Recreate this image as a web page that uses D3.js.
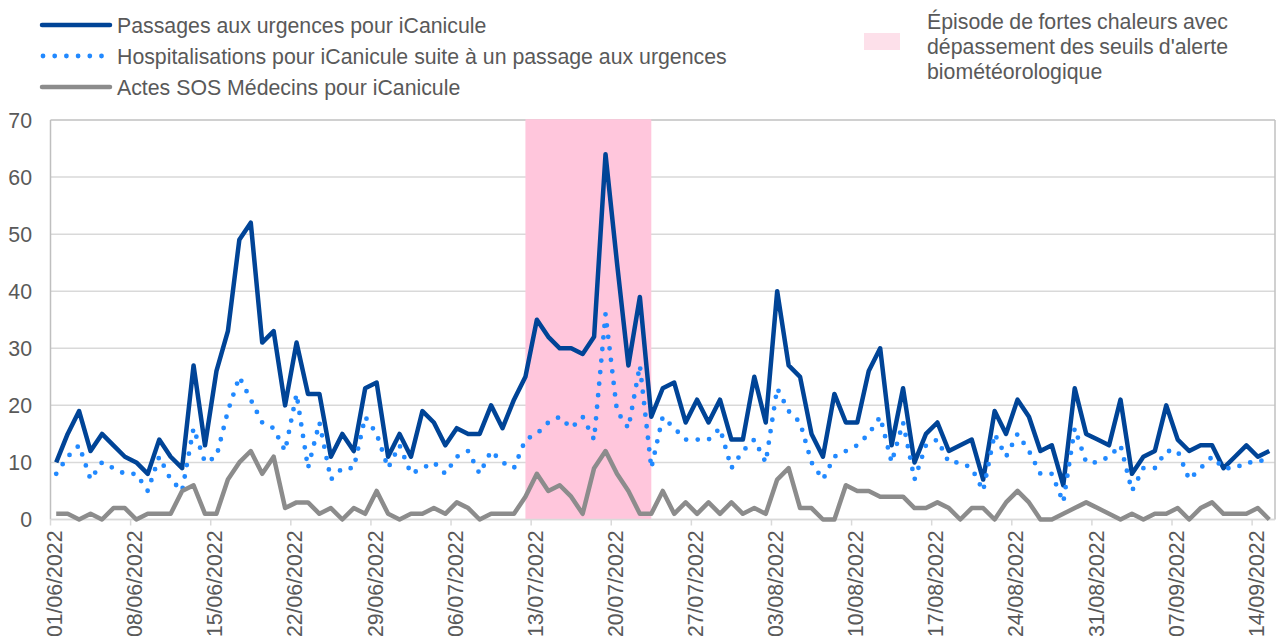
<!DOCTYPE html>
<html>
<head>
	<title></title>
	<meta charset="utf-8">
	<script src="https://d3js.org/d3.v7.min.js"></script>
	<style>
		body { margin: 0; background: #fff; }
		text { font-family: "Liberation Sans", Arial, sans-serif; fill: #595959; }
	</style>
</head>
<body>

	<script type="text/javascript">

		// first day of the daily series, one value per day
		var startDate = "01/06/2022"

		var passages = [10, 15, 19, 12, 15, 13, 11, 10, 8, 14,
			11, 9, 27, 13, 26, 33, 49, 52, 31, 33,
			20, 31, 22, 22, 11, 15, 12, 23, 24, 11,
			15, 11, 19, 17, 13, 16, 15, 15, 20, 16,
			21, 25, 35, 32, 30, 30, 29, 32, 64, 45,
			27, 39, 18, 23, 24, 17, 21, 17, 21, 14,
			14, 25, 17, 40, 27, 25, 15, 11, 22, 17,
			17, 26, 30, 13, 23, 10, 15, 17, 12, 13,
			14, 7, 19, 15, 21, 18, 12, 13, 6, 23,
			15, 14, 13, 21, 8, 11, 12, 20, 14, 12,
			13, 13, 9, 11, 13, 11, 12]

		var hospit = [8, 11, 13, 7, 10, 9, 8, 8, 5, 11,
			7, 5, 16, 10, 11, 19, 25, 21, 17, 16,
			12, 22, 9, 17, 7, 9, 9, 18, 15, 9,
			13, 8, 9, 10, 8, 11, 12, 8, 12, 10,
			9, 14, 15, 17, 18, 16, 18, 14, 36, 19,
			16, 27, 9, 18, 16, 14, 14, 14, 16, 9,
			12, 14, 10, 23, 19, 17, 10, 7, 11, 12,
			13, 15, 18, 10, 17, 7, 13, 14, 10, 10,
			9, 5, 15, 11, 15, 12, 8, 8, 3, 16,
			10, 10, 11, 13, 5, 9, 9, 12, 12, 7,
			9, 11, 9, 9, 10, 10, 11]

		var sos = [1, 1, 0, 1, 0, 2, 2, 0, 1, 1,
			1, 5, 6, 1, 1, 7, 10, 12, 8, 11,
			2, 3, 3, 1, 2, 0, 2, 1, 5, 1,
			0, 1, 1, 2, 1, 3, 2, 0, 1, 1,
			1, 4, 8, 5, 6, 4, 1, 9, 12, 8,
			5, 1, 1, 5, 1, 3, 1, 3, 1, 3,
			1, 2, 1, 7, 9, 2, 2, 0, 0, 6,
			5, 5, 4, 4, 4, 2, 2, 3, 2, 0,
			2, 2, 0, 3, 5, 3, 0, 0, 1, 2,
			3, 2, 1, 0, 1, 0, 1, 1, 2, 0,
			2, 3, 1, 1, 1, 2, 0]

		// heatwave episode (centre of first day to centre of last day)
		var heatwave = ["12/07/2022", "23/07/2022"]

		var tickLabels = ["01/06/2022", "08/06/2022", "15/06/2022", "22/06/2022",
			"29/06/2022", "06/07/2022", "13/07/2022", "20/07/2022", "27/07/2022",
			"03/08/2022", "10/08/2022", "17/08/2022", "24/08/2022", "31/08/2022",
			"07/09/2022", "14/09/2022"]

		var yTicks = [0, 10, 20, 30, 40, 50, 60, 70]

		var seriesNames = ["Passages aux urgences pour iCanicule",
			"Hospitalisations pour iCanicule suite à un passage aux urgences",
			"Actes SOS Médecins pour iCanicule"]

		var heatLabel = ["Épisode de fortes chaleurs avec",
			"dépassement des seuils d'alerte",
			"biométéorologique"]

		var parse = d3.timeParse("%d/%m/%Y")
		var start = parse(startDate)
		var days = d3.timeDay.range(start, d3.timeDay.offset(start, passages.length))
		var mid = function(d){ return d3.timeHour.offset(d, 12) }

		var W = 1276, H = 636
		var pLeft = 50.5, pRight = 1275, pTop = 120, pBottom = 519.5
		var fs = "21.3px"

		var svg = d3.select("body").append("svg")
			.attr("width", W)
			.attr("height", H)

		var x = d3.scaleTime()
			.domain([start, d3.timeDay.offset(start, passages.length)])
			.range([pLeft, pRight])

		var y = d3.scaleLinear()
			.domain([0, 70])
			.range([pBottom, pTop])

		// gridlines
		svg.selectAll(".grid")
			.data(yTicks)
			.enter().append("line")
			.attr("x1", pLeft).attr("x2", pRight)
			.attr("y1", function(d){ return y(d) })
			.attr("y2", function(d){ return y(d) })
			.attr("stroke", function(d){ return d == 70 ? "#c0c0c0" : "#d9d9d9" })
			.attr("stroke-width", 1.5)

		// right border of plot area
		svg.append("line")
			.attr("x1", pRight).attr("x2", pRight)
			.attr("y1", pTop).attr("y2", pBottom)
			.attr("stroke", "#c0c0c0").attr("stroke-width", 1.5)

		// heatwave band
		svg.append("rect")
			.attr("x", x(mid(parse(heatwave[0]))))
			.attr("y", pTop - 0.75)
			.attr("width", x(mid(parse(heatwave[1]))) - x(mid(parse(heatwave[0]))))
			.attr("height", pBottom - pTop + 0.75)
			.attr("fill", "#ffc6dc")

		// left axis line
		svg.append("line")
			.attr("x1", pLeft).attr("x2", pLeft)
			.attr("y1", pTop).attr("y2", pBottom)
			.attr("stroke", "#bfbfbf").attr("stroke-width", 1.5)

		// bottom axis
		svg.append("line")
			.attr("x1", pLeft).attr("x2", pRight)
			.attr("y1", pBottom).attr("y2", pBottom)
			.attr("stroke", "#d9d9d9").attr("stroke-width", 1.5)

		svg.selectAll(".xtick")
			.data(tickLabels)
			.enter().append("line")
			.attr("x1", function(d){ return x(parse(d)) })
			.attr("x2", function(d){ return x(parse(d)) })
			.attr("y1", pBottom).attr("y2", pBottom + 6)
			.attr("stroke", "#d9d9d9").attr("stroke-width", 1.5)

		svg.selectAll(".xlabel")
			.data(tickLabels)
			.enter().append("text")
			.attr("transform", function(d){ return "translate(" + (x(parse(d)) + 4) + "," + (pBottom + 11) + ") rotate(-90)" })
			.attr("dy", "0.36em")
			.attr("text-anchor", "end")
			.style("font-size", fs)
			.text(function(d){ return d })

		svg.selectAll(".ylabel")
			.data(yTicks)
			.enter().append("text")
			.attr("x", 32)
			.attr("y", function(d){ return y(d) })
			.attr("dy", "0.36em")
			.attr("text-anchor", "end")
			.style("font-size", fs)
			.text(function(d){ return d })

		// series
		function line(values){
			return d3.line()
				.x(function(d, i){ return x(mid(days[i])) })
				.y(function(d){ return y(d) })(values)
		}

		svg.append("path")
			.attr("d", line(passages))
			.attr("fill", "none")
			.attr("stroke", "#004497")
			.attr("stroke-width", 4.5)
			.attr("stroke-linejoin", "round")

		svg.append("path")
			.attr("d", line(hospit))
			.attr("fill", "none")
			.attr("stroke", "#2189ff")
			.attr("stroke-width", 4.8)
			.attr("stroke-linecap", "round")
			.attr("stroke-dasharray", "0 11.6")

		svg.append("path")
			.attr("d", line(sos))
			.attr("fill", "none")
			.attr("stroke", "#8c8c8c")
			.attr("stroke-width", 4.5)
			.attr("stroke-linejoin", "round")

		// legend
		var legendColors = ["#004497", "#2189ff", "#8c8c8c"]
		var legend = svg.selectAll(".legend")
			.data(seriesNames)
			.enter().append("g")
			.attr("transform", function(d, i){ return "translate(0," + (25 + i * 31) + ")" })

		legend.append("line")
			.attr("x1", function(d, i){ return i == 1 ? 43 : 42 })
			.attr("x2", function(d, i){ return i == 1 ? 102 : 110 })
			.attr("stroke", function(d, i){ return legendColors[i] })
			.attr("stroke-width", function(d, i){ return i == 1 ? 4.8 : 4.5 })
			.attr("stroke-linecap", "round")
			.attr("stroke-dasharray", function(d, i){ return i == 1 ? "0 11.7" : null })

		legend.append("text")
			.attr("x", 117)
			.attr("dy", "0.36em")
			.style("font-size", fs)
			.text(function(d){ return d })

		svg.append("rect")
			.attr("x", 864).attr("y", 33)
			.attr("width", 36).attr("height", 17)
			.attr("fill", "#fde0ea")

		var heatText = svg.selectAll(".heat")
			.data(heatLabel)
			.enter().append("text")
			.attr("x", 927)
			.attr("y", function(d, i){ return 29 + i * 25 })
			.style("font-size", fs)
			.text(function(d){ return d })

		// justify the first two lines like the original text box
		heatText.each(function(d, i){
			if (i == 2) return
			var w = this.getComputedTextLength()
			var gaps = d.split(" ").length - 1
			d3.select(this).style("word-spacing", ((301 - w) / gaps) + "px")
		})

	</script>

</body>
</html>
